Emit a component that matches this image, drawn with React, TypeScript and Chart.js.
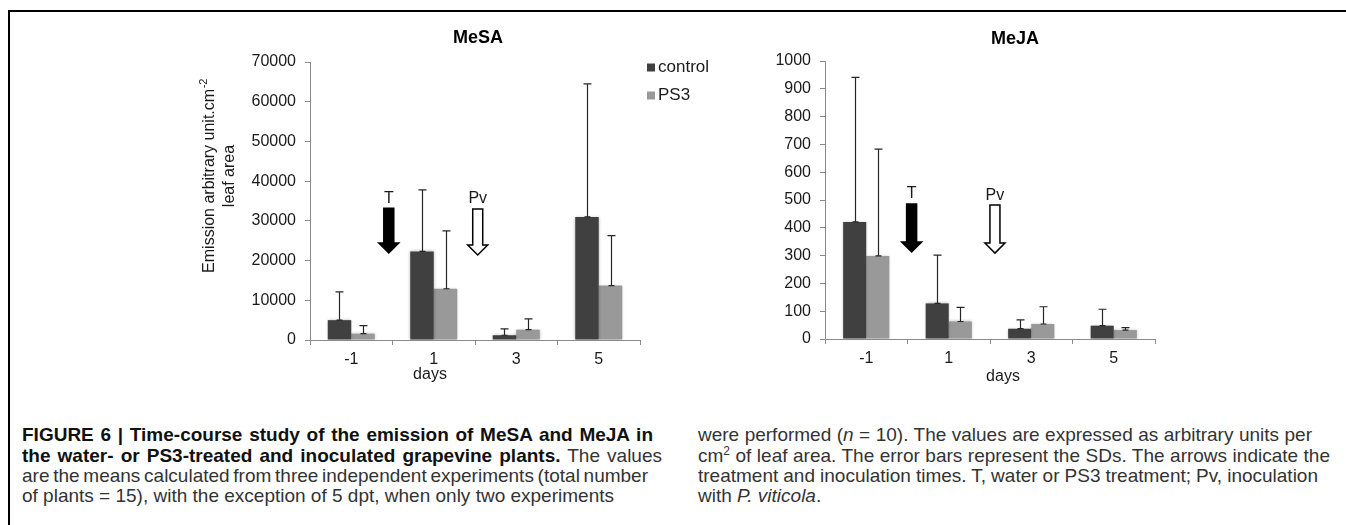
import React, { useEffect, useLayoutEffect, useRef } from 'react';
import { Chart, registerables } from 'chart.js';

Chart.register(...registerables);

const FONT = "'Liberation Sans', Arial, Helvetica, sans-serif";

// ---- data ----
const DAYS = ['-1', '1', '3', '5'];
const SERIES_NAMES = ['control', 'PS3'];
const SERIES_COLORS = ['#404040', '#999999'];

const MESA_CONTROL = [5000, 22300, 1200, 31000];
const MESA_CONTROL_SD = [7100, 15500, 1600, 33500];
const MESA_PS3 = [1600, 12900, 2600, 13700];
const MESA_PS3_SD = [2000, 14600, 2700, 12600];
const MESA_Y_TICKS = [0, 10000, 20000, 30000, 40000, 50000, 60000, 70000];

const MEJA_CONTROL = [421, 128, 37, 48];
const MEJA_CONTROL_SD = [520, 174, 32, 59];
const MEJA_PS3 = [299, 63, 54, 32];
const MEJA_PS3_SD = [384, 51, 62, 9];
const MEJA_Y_TICKS = [0, 100, 200, 300, 400, 500, 600, 700, 800, 900, 1000];

// arrow annotations: label, category position (index units), top value, tip value
const MESA_ARROWS = [
  { label: 'T', at: 0.455, from: 33200, to: 21900, filled: true },
  { label: 'Pv', at: 1.533, from: 33000, to: 21400, filled: false },
];
const MEJA_ARROWS = [
  { label: 'T', at: 0.55, from: 486, to: 313, filled: true },
  { label: 'Pv', at: 1.56, from: 482, to: 309, filled: false },
];

const AXIS_COLOR = '#8a8a8a';
const TEXT_COLOR = '#1a1a1a';

const decorPlugin = {
  id: 'decor',
  beforeDatasetsDraw(chart: any) {
    const c = chart.ctx;
    c.save();
    c.shadowColor = 'rgba(0,0,0,0.28)';
    c.shadowBlur = 3;
  },
  afterDatasetsDraw(chart: any) {
    const c = chart.ctx;
    c.restore();
    const ys = chart.scales.y;
    c.save();
    c.strokeStyle = '#262626';
    c.lineWidth = 1.2;
    chart.data.datasets.forEach((ds: any, di: number) => {
      const meta = chart.getDatasetMeta(di);
      meta.data.forEach((el: any, i: number) => {
        const x = Math.round(el.x) + 0.5;
        const yb = el.y;
        const yt = ys.getPixelForValue(ds.data[i] + ds.sd[i]);
        c.beginPath();
        c.moveTo(x, yb);
        c.lineTo(x, yt);
        c.moveTo(x - 4, yt);
        c.lineTo(x + 4, yt);
        c.moveTo(x - 3, yb);
        c.lineTo(x + 3, yb);
        c.stroke();
      });
    });
    c.restore();
  },
  afterDraw(chart: any, _args: any, o: any) {
    const c = chart.ctx;
    const ca = chart.chartArea;
    const xs = chart.scales.x;
    const ys = chart.scales.y;
    const p0 = xs.getPixelForTick(0);
    const p1 = xs.getPixelForTick(1);
    const xAt = (v: number) => p0 + (p1 - p0) * v;

    c.save();
    // arrows
    (o.arrows || []).forEach((a: any) => {
      const x = xAt(a.at);
      const yTop = ys.getPixelForValue(a.from);
      const yTip = ys.getPixelForValue(a.to);
      const sh = 5, hh = 10, hl = 10;
      c.beginPath();
      c.moveTo(x - sh, yTop);
      c.lineTo(x + sh, yTop);
      c.lineTo(x + sh, yTip - hl);
      c.lineTo(x + hh, yTip - hl);
      c.lineTo(x, yTip);
      c.lineTo(x - hh, yTip - hl);
      c.lineTo(x - sh, yTip - hl);
      c.closePath();
      c.fillStyle = a.filled ? '#000' : '#fff';
      c.fill();
      c.strokeStyle = '#000';
      c.lineWidth = 1.5;
      c.stroke();
      c.fillStyle = TEXT_COLOR;
      c.font = `16px ${FONT}`;
      c.textAlign = 'center';
      c.textBaseline = 'alphabetic';
      c.fillText(a.label, x, yTop - 5.5);
    });

    // title
    c.fillStyle = '#000';
    c.font = `bold 18px ${FONT}`;
    c.textAlign = 'center';
    c.textBaseline = 'middle';
    c.fillText(o.title, ca.left + o.titleDx, ca.top + o.titleDy);

    // days label
    c.fillStyle = TEXT_COLOR;
    c.font = `16px ${FONT}`;
    c.fillText('days', ca.left + o.daysDx, ca.bottom + o.daysDy);

    // y title
    if (o.yTitle) {
      const cy = ca.top + o.yTitle.dy;
      c.save();
      c.translate(ca.left + o.yTitle.dx1, cy);
      c.rotate(-Math.PI / 2);
      c.font = `16px ${FONT}`;
      const wMain = c.measureText(o.yTitle.line1).width;
      c.font = `11px ${FONT}`;
      const wSup = c.measureText(o.yTitle.sup).width;
      const start = -(wMain + wSup) / 2;
      c.textAlign = 'left';
      c.textBaseline = 'middle';
      c.font = `16px ${FONT}`;
      c.fillText(o.yTitle.line1, start, 0);
      c.font = `11px ${FONT}`;
      c.fillText(o.yTitle.sup, start + wMain + 0.5, -6);
      c.restore();
      c.save();
      c.translate(ca.left + o.yTitle.dx2, cy);
      c.rotate(-Math.PI / 2);
      c.font = `16px ${FONT}`;
      c.textAlign = 'center';
      c.textBaseline = 'middle';
      c.fillText(o.yTitle.line2, 0, 0);
      c.restore();
    }

    // legend
    if (o.legend) {
      chart.data.datasets.forEach((ds: any, i: number) => {
        const cy = ca.top + o.legend.dy0 + i * o.legend.step;
        c.fillStyle = ds.backgroundColor;
        c.fillRect(ca.right + o.legend.dx, cy - 4, 8, 8);
        c.fillStyle = TEXT_COLOR;
        c.font = `17px ${FONT}`;
        c.textAlign = 'left';
        c.textBaseline = 'middle';
        c.fillText(ds.label, ca.right + o.legend.dx + 11, cy);
      });
    }
    c.restore();
  },
};

function makeConfig(p: any) {
  const tickFont = { family: FONT, size: 16 };
  return {
    type: 'bar',
    data: {
      labels: DAYS,
      datasets: [
        {
          label: SERIES_NAMES[0],
          data: p.control,
          sd: p.controlSd,
          backgroundColor: SERIES_COLORS[0],
          borderWidth: 0,
          categoryPercentage: p.catPct,
          barPercentage: 1,
        },
        {
          label: SERIES_NAMES[1],
          data: p.ps3,
          sd: p.ps3Sd,
          backgroundColor: SERIES_COLORS[1],
          borderWidth: 0,
          categoryPercentage: p.catPct,
          barPercentage: 1,
        },
      ],
    },
    plugins: [decorPlugin],
    options: {
      responsive: false,
      animation: false,
      devicePixelRatio: 1,
      layout: { padding: { top: p.padTop, right: p.padRight, left: 0, bottom: 0 } },
      plugins: {
        legend: { display: false },
        title: { display: false },
        tooltip: { enabled: false },
        decor: p.decor,
      },
      scales: {
        x: {
          grid: {
            display: true,
            drawOnChartArea: false,
            drawTicks: true,
            tickLength: 5,
            color: AXIS_COLOR,
            offset: true,
          },
          border: { display: true, color: AXIS_COLOR, width: 1 },
          ticks: { font: tickFont, color: TEXT_COLOR, padding: 5, maxRotation: 0 },
          afterFit: (s: any) => {
            s.height = p.xHeight;
          },
        },
        y: {
          min: 0,
          max: p.yTicks[p.yTicks.length - 1],
          grid: {
            display: true,
            drawOnChartArea: false,
            drawTicks: true,
            tickLength: 5,
            color: AXIS_COLOR,
          },
          border: { display: true, color: AXIS_COLOR, width: 1 },
          ticks: {
            font: tickFont,
            color: TEXT_COLOR,
            padding: 9,
            callback: (v: any) => String(v),
          },
          afterBuildTicks: (s: any) => {
            s.ticks = p.yTicks.map((v: number) => ({ value: v }));
          },
          afterFit: (s: any) => {
            s.width = p.yWidth;
          },
        },
      },
    },
  };
}

function BarPanel({ left, top, width, height, params }: any) {
  const ref = useRef<HTMLCanvasElement>(null);
  useEffect(() => {
    const chart = new Chart(ref.current as HTMLCanvasElement, makeConfig(params) as any);
    return () => chart.destroy();
  }, []);
  return (
    <canvas
      ref={ref}
      width={width}
      height={height}
      style={{ position: 'absolute', left, top, width, height }}
    />
  );
}

function JLine({ x, y, w, children }: any) {
  const ref = useRef<HTMLDivElement>(null);
  useLayoutEffect(() => {
    const el = ref.current;
    if (!el || !w) return;
    el.style.wordSpacing = '0px';
    const nat = el.getBoundingClientRect().width;
    const spaces = (el.textContent || '').split(' ').length - 1;
    if (spaces > 0) el.style.wordSpacing = (w - nat) / spaces + 'px';
  }, []);
  return (
    <div
      ref={ref}
      style={{
        position: 'absolute',
        left: x,
        top: y,
        whiteSpace: 'pre',
        fontSize: 19,
        lineHeight: '20px',
        fontFamily: FONT,
        color: '#333',
      }}
    >
      {children}
    </div>
  );
}

const B = ({ children }: any) => <span style={{ fontWeight: 'bold', color: '#111' }}>{children}</span>;
const I = ({ children }: any) => <span style={{ fontStyle: 'italic' }}>{children}</span>;

export default function App() {
  const mesa = {
    control: MESA_CONTROL,
    controlSd: MESA_CONTROL_SD,
    ps3: MESA_PS3,
    ps3Sd: MESA_PS3_SD,
    yTicks: MESA_Y_TICKS,
    catPct: 0.57,
    padTop: 42,
    padRight: 90,
    xHeight: 60,
    yWidth: 160,
    decor: {
      title: 'MeSA',
      titleDx: 168,
      titleDy: -23.5,
      daysDx: 120,
      daysDy: 34.5,
      arrows: MESA_ARROWS,
      yTitle: { line1: 'Emission arbitrary unit.cm', sup: '-2', line2: 'leaf area', dx1: -100, dx2: -80.5, dy: 114 },
      legend: { dx: 7, dy0: 5.5, step: 28 },
    },
  };
  const meja = {
    control: MEJA_CONTROL,
    controlSd: MEJA_CONTROL_SD,
    ps3: MEJA_PS3,
    ps3Sd: MEJA_PS3_SD,
    yTicks: MEJA_Y_TICKS,
    catPct: 0.56,
    padTop: 41,
    padRight: 65,
    xHeight: 61,
    yWidth: 95,
    decor: {
      title: 'MeJA',
      titleDx: 190,
      titleDy: -22,
      daysDx: 178,
      daysDy: 38,
      arrows: MEJA_ARROWS,
    },
  };
  return (
    <div
      style={{
        position: 'fixed',
        left: 0,
        top: 0,
        width: 1346,
        height: 525,
        background: '#fff',
        overflow: 'hidden',
      }}
    >
      <div
        style={{
          position: 'absolute',
          left: 8,
          top: 10,
          width: 1346,
          height: 525,
          borderTop: '2px solid #000',
          borderLeft: '2px solid #000',
        }}
      />
      <BarPanel left={150} top={20} width={580} height={380} params={mesa} />
      <BarPanel left={730} top={20} width={490} height={380} params={meja} />

      <JLine x={22} y={425} w={631}>
        <B>FIGURE 6 | Time-course study of the emission of MeSA and MeJA in</B>
      </JLine>
      <JLine x={22} y={445.5} w={640}>
        <B>the water- or PS3-treated and inoculated grapevine plants.</B> The values
      </JLine>
      <JLine x={22} y={466} w={626}>
        are the means calculated from three independent experiments (total number
      </JLine>
      <JLine x={22} y={486}>
        of plants = 15), with the exception of 5 dpt, when only two experiments
      </JLine>

      <JLine x={698} y={425} w={614}>
        were performed (<I>n</I> = 10). The values are expressed as arbitrary units per
      </JLine>
      <JLine x={698} y={445.5} w={632}>
        cm<sup style={{ fontSize: 12, lineHeight: 0 }}>2</sup> of leaf area. The error bars represent the SDs. The arrows indicate the
      </JLine>
      <JLine x={698} y={466} w={620}>
        treatment and inoculation times. T, water or PS3 treatment; Pv, inoculation
      </JLine>
      <JLine x={698} y={486}>
        with <I>P. viticola</I>.
      </JLine>
    </div>
  );
}
